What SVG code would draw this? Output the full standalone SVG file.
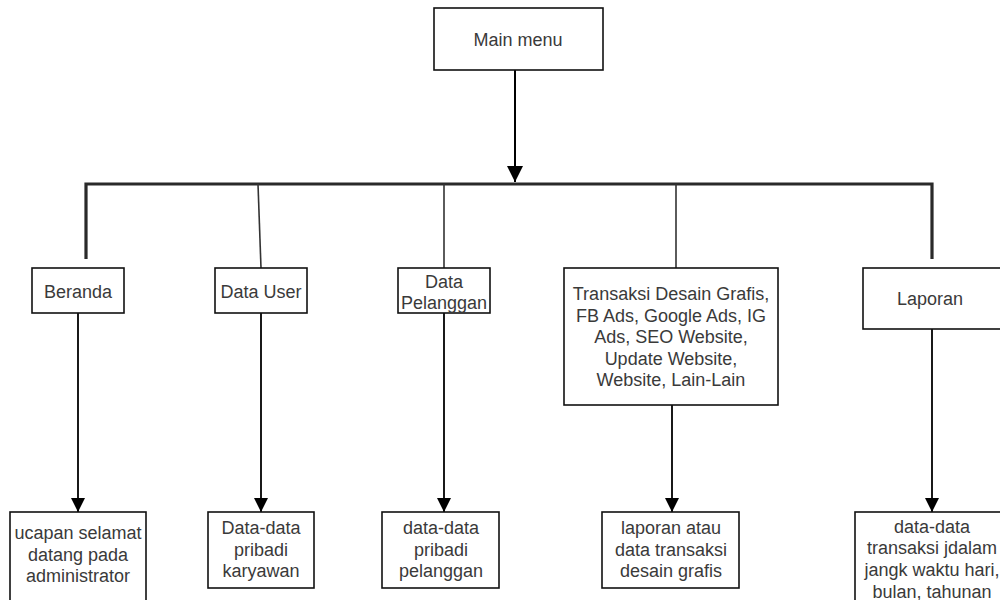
<svg xmlns="http://www.w3.org/2000/svg" width="1000" height="600" viewBox="0 0 1000 600">
<style>
.box{fill:#fff;stroke:#111;stroke-width:1.6}
.t{font-family:"Liberation Sans",Arial,sans-serif;font-size:18px;fill:#3a3a3a;text-anchor:middle}
.thick{stroke:#2a2a2a;stroke-width:3.2;fill:none}
.thin{stroke:#333;stroke-width:1.6;fill:none}
.arr{stroke:#000;stroke-width:1.8;fill:none}
</style>
<defs>
<marker id="ah" viewBox="0 0 10 10" refX="10" refY="5" markerWidth="7" markerHeight="7" markerUnits="userSpaceOnUse" orient="auto">
<path d="M0,0 L10,5 L0,10 Z" fill="#000"/>
</marker>
<marker id="ahBig" viewBox="0 0 10 10" refX="10" refY="5" markerWidth="8" markerHeight="8" markerUnits="strokeWidth" orient="auto">
<path d="M0,0 L10,5 L0,10 Z" fill="#000"/>
</marker>
</defs>
<rect width="1000" height="600" fill="#fff"/>
<g id="connectors">
<path class="thick" d="M86,259 V184 H932 V259"/>
<line class="thin" x1="258" y1="184" x2="261" y2="268"/>
<line class="thin" x1="444" y1="184" x2="444" y2="268"/>
<line class="thin" x1="676" y1="184" x2="676" y2="268"/>
<line x1="515" y1="70" x2="515" y2="182" stroke="#000" stroke-width="2" marker-end="url(#ahBig)"/>
<line class="arr" x1="78" y1="313" x2="78" y2="512" marker-end="url(#ahBig)"/>
<line class="arr" x1="261" y1="313" x2="261" y2="512" marker-end="url(#ahBig)"/>
<line class="arr" x1="444" y1="313" x2="444" y2="512" marker-end="url(#ahBig)"/>
<line class="arr" x1="672" y1="405" x2="672" y2="512" marker-end="url(#ahBig)"/>
<line class="arr" x1="932" y1="329" x2="932" y2="512" marker-end="url(#ahBig)"/>
</g>
<g id="main-menu">
<rect class="box" x="434" y="8" width="169" height="62"/>
<text class="t" x="518" y="46">Main menu</text>
</g>
<g id="beranda">
<rect class="box" x="32" y="268" width="92" height="45"/>
<text class="t" x="78" y="298">Beranda</text>
</g>
<g id="data-user">
<rect class="box" x="215" y="268" width="92" height="45"/>
<text class="t" x="261" y="298">Data User</text>
</g>
<g id="data-pelanggan">
<rect class="box" x="398" y="268" width="92" height="45"/>
<text class="t" x="444" y="288">Data</text>
<text class="t" x="444" y="309">Pelanggan</text>
</g>
<g id="transaksi">
<rect class="box" x="564" y="268" width="214" height="137"/>
<text class="t" x="671" y="300">Transaksi Desain Grafis,</text>
<text class="t" x="671" y="322">FB Ads, Google Ads, IG</text>
<text class="t" x="671" y="343">Ads, SEO Website,</text>
<text class="t" x="671" y="365">Update Website,</text>
<text class="t" x="671" y="386">Website, Lain-Lain</text>
</g>
<g id="laporan">
<rect class="box" x="863" y="268" width="140" height="61"/>
<text class="t" x="930" y="305">Laporan</text>
</g>
<g id="ucapan">
<rect class="box" x="10" y="512" width="136" height="100"/>
<text class="t" x="78" y="539">ucapan selamat</text>
<text class="t" x="78" y="561">datang pada</text>
<text class="t" x="78" y="582">administrator</text>
</g>
<g id="data-karyawan">
<rect class="box" x="208" y="512" width="106" height="76"/>
<text class="t" x="261" y="534">Data-data</text>
<text class="t" x="261" y="556">pribadi</text>
<text class="t" x="261" y="577">karyawan</text>
</g>
<g id="data-pelanggan-detail">
<rect class="box" x="382" y="512" width="117" height="76"/>
<text class="t" x="441" y="534">data-data</text>
<text class="t" x="441" y="556">pribadi</text>
<text class="t" x="441" y="577">pelanggan</text>
</g>
<g id="laporan-transaksi">
<rect class="box" x="602" y="512" width="137" height="76"/>
<text class="t" x="671" y="534">laporan atau</text>
<text class="t" x="671" y="556">data transaksi</text>
<text class="t" x="671" y="577">desain grafis</text>
</g>
<g id="data-transaksi">
<rect class="box" x="855" y="512" width="154" height="100"/>
<text class="t" x="932" y="533">data-data</text>
<text class="t" x="932" y="554">transaksi jdalam</text>
<text class="t" x="932" y="576">jangk waktu hari,</text>
<text class="t" x="932" y="598">bulan, tahunan</text>
</g>
</svg>
